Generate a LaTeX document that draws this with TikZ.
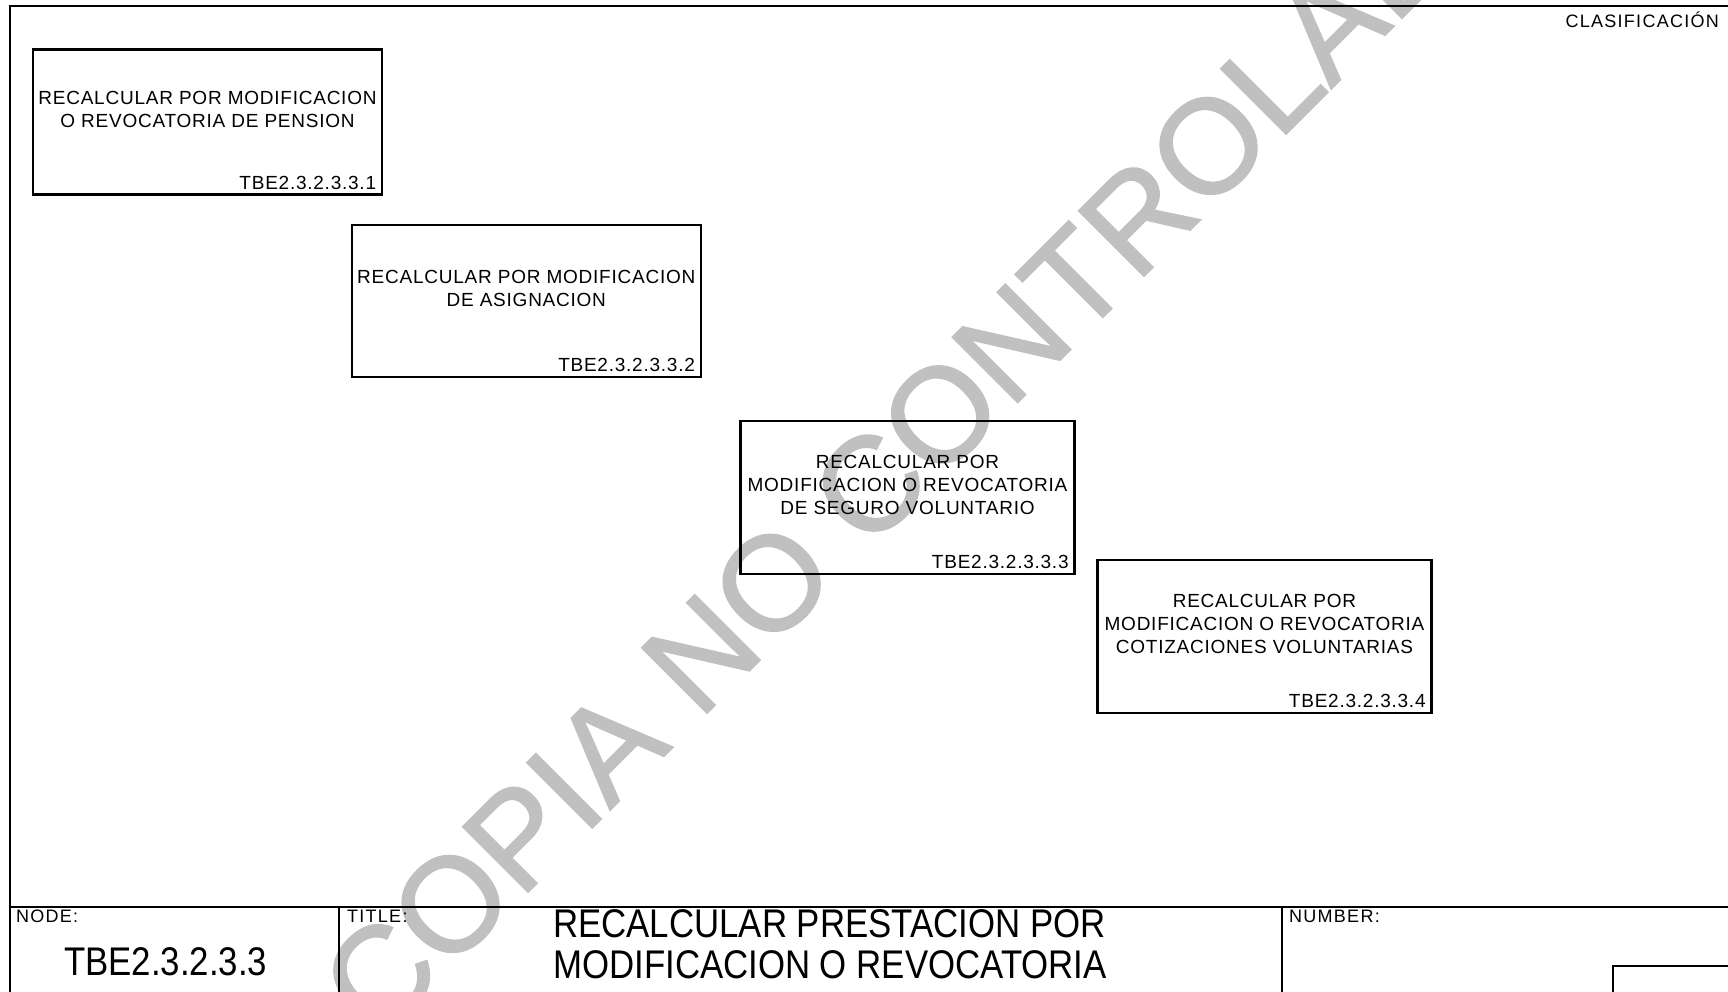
\documentclass[tikz,border=0pt]{standalone}
\usepackage{fontspec}
\setmainfont{Liberation Sans}
\newfontfamily\boxfont[LetterSpace=4]{Liberation Sans}
\newfontfamily\capfont[LetterSpace=7]{Liberation Sans}
\newfontfamily\narrowfont[FakeStretch=0.87]{Liberation Sans}
\newfontfamily\markfont[FakeBold=1.3]{Liberation Sans}
\definecolor{markgray}{RGB}{192,192,192}

\begin{document}
\begin{tikzpicture}[x=1pt, y=-1pt,
        activity/.style={draw, line width=2.6pt, inner sep=0pt},
        acttext/.style={font=\boxfont\fontsize{19}{23}\selectfont, align=center, inner sep=0pt},
        actcode/.style={font=\boxfont\fontsize{19}{23}\selectfont, anchor=base east, inner sep=0pt},
        frame/.style={line width=1.8pt},
        caption/.style={font=\capfont\fontsize{18}{22}\selectfont, anchor=west, inner sep=0pt},
        bigtext/.style={font=\narrowfont\fontsize{40}{40.5}\selectfont, inner sep=0pt}]
    \useasboundingbox (0,0) rectangle (1728,992);

    % Watermark
    \node[text=markgray, font=\markfont\fontsize{134}{134}\selectfont, rotate=45, anchor=base west, inner sep=0pt] (copia) at (378,1042) {COPIA NO CONTROLADA};

    % Sheet frame
    \draw[frame] (10,992) -- (10,6) -- (1728,6);
    \draw[frame] (10,907) -- (1728,907);
    \draw[frame] (339,907) -- (339,992);
    \draw[frame] (1282,907) -- (1282,992);
    \draw[frame] (1613,1000) -- (1613,966) -- (1740,966);

    \node[font=\capfont\fontsize{18}{22}\selectfont, anchor=base east, inner sep=0pt] (clasif) at (1719,27.5) {CLASIFICACIÓN};

    % Activity boxes
    \node[activity, minimum width=349pt, minimum height=145pt] (a1) at (207.5,122.3) {};
    \node[acttext] (a1t) at ([yshift=12.8pt]a1.center) {RECALCULAR POR MODIFICACION\\O REVOCATORIA DE PENSION};
    \node[actcode] (a1c) at ([xshift=-7pt,yshift=7pt]a1.south east) {TBE2.3.2.3.3.1};

    \node[activity, minimum width=349pt, minimum height=152pt] (a2) at (526.3,300.9) {};
    \node[acttext] (a2t) at ([yshift=12.5pt]a2.center) {RECALCULAR POR MODIFICACION\\DE ASIGNACION};
    \node[actcode] (a2c) at ([xshift=-7pt,yshift=7pt]a2.south east) {TBE2.3.2.3.3.2};

    \node[activity, minimum width=334pt, minimum height=153pt] (a3) at (907.5,497.5) {};
    \node[acttext] (a3t) at ([yshift=12.5pt]a3.center) {RECALCULAR POR\\MODIFICACION O REVOCATORIA\\DE SEGURO VOLUNTARIO};
    \node[actcode] (a3c) at ([xshift=-7pt,yshift=7pt]a3.south east) {TBE2.3.2.3.3.3};

    \node[activity, minimum width=334pt, minimum height=153pt] (a4) at (1264.5,636.5) {};
    \node[acttext] (a4t) at ([yshift=12.5pt]a4.center) {RECALCULAR POR\\MODIFICACION O REVOCATORIA\\COTIZACIONES VOLUNTARIAS};
    \node[actcode] (a4c) at ([xshift=-7pt,yshift=7pt]a4.south east) {TBE2.3.2.3.3.4};

    % Title block
    \node[caption] (nodecap) at (16,916) {NODE:};
    \node[bigtext, anchor=west] (nodeid) at (64,962) {TBE2.3.2.3.3};
    \node[caption] (titlecap) at (347,916) {TITLE:};
    \node[bigtext, align=left, anchor=base west] (title) at (553,978) {RECALCULAR PRESTACION POR\\MODIFICACION O REVOCATORIA};
    \node[caption] (numcap) at (1289,916) {NUMBER:};
\end{tikzpicture}
\end{document}
